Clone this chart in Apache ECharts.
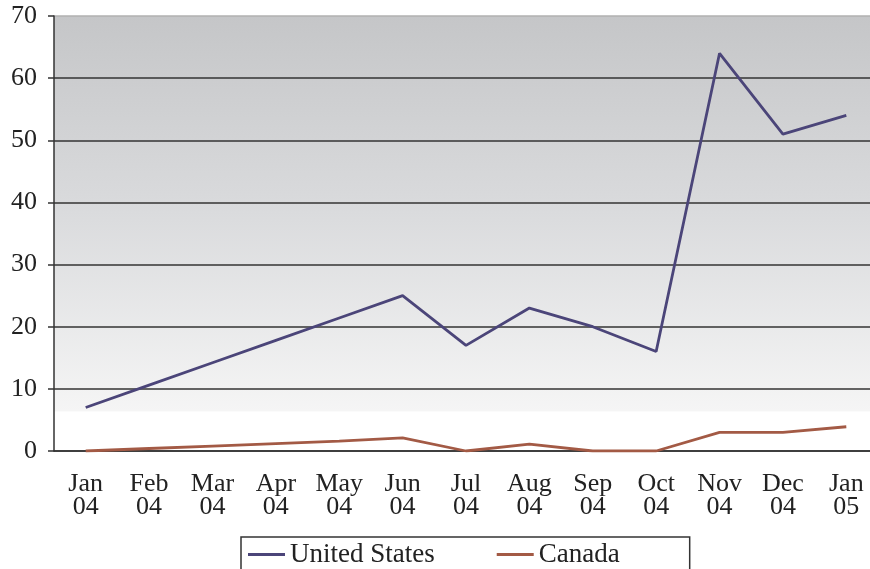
<!DOCTYPE html>
<html>
<head>
<meta charset="utf-8">
<script src="https://cdn.jsdelivr.net/npm/echarts@6/dist/echarts.min.js"></script>
<style>
  html, body { margin: 0; padding: 0; background: #fff; }
  #chart { width: 870px; height: 569px; }
</style>
</head>
<body>
<div id="chart"></div>
<script>
const months = ['Jan\n04', 'Feb\n04', 'Mar\n04', 'Apr\n04', 'May\n04', 'Jun\n04', 'Jul\n04',
  'Aug\n04', 'Sep\n04', 'Oct\n04', 'Nov\n04', 'Dec\n04', 'Jan\n05']
const unitedStates = [7, 10.6, 14.2, 17.8, 21.4, 25, 17, 23, 20, 16, 64, 51, 54]
const canada = [0, 0.4, 0.8, 1.2, 1.6, 2.1, 0, 1.1, 0, 0, 3, 3, 3.9]

const serif = '"Liberation Serif", "DejaVu Serif", serif'
const chart = echarts.init(document.getElementById('chart'))

chart.setOption({
  animation: false,
  textStyle: { fontFamily: serif },
  grid: {
    left: 54, top: 16, width: 824, height: 435,
    outerBoundsMode: 'none',
    containLabel: false,
    show: true,
    borderWidth: 0,
    backgroundColor: new echarts.graphic.LinearGradient(0, 0, 0, 1, [
      { offset: 0, color: '#c5c6c8' },
      { offset: 0.45, color: '#dadbdd' },
      { offset: 0.908, color: '#f5f5f5' },
      { offset: 0.91, color: '#ffffff' },
      { offset: 1, color: '#ffffff' }
    ])
  },
  legend: {
    left: 241, top: 537,
    padding: [4, 70, 10, 7],
    borderColor: '#333', borderWidth: 1.5,
    icon: 'rect', itemWidth: 37, itemHeight: 3, itemGap: 62,
    textStyle: { fontFamily: serif, fontSize: 27, color: '#222' },
    data: ['United States', 'Canada']
  },
  xAxis: {
    type: 'category',
    data: months,
    boundaryGap: true,
    axisLine: { lineStyle: { color: '#333', width: 1.5 } },
    axisTick: { length: 7, lineStyle: { color: '#333', width: 1.5 } },
    axisLabel: {
      margin: 22, fontSize: 26, lineHeight: 23, color: '#222',
      fontFamily: serif, interval: 0
    }
  },
  yAxis: {
    type: 'value',
    min: 0, max: 70, interval: 10,
    axisLine: { show: true, lineStyle: { color: '#333', width: 1.5 } },
    axisTick: { show: true, length: 6, lineStyle: { color: '#333', width: 1.5 } },
    axisLabel: { margin: 17, fontSize: 26, color: '#222', fontFamily: serif, padding: [6, 0, 0, 0] },
    splitLine: {
      lineStyle: {
        color: ['#333', '#333', '#333', '#333', '#333', '#333', '#333', '#b0b0b0'],
        width: 1.5
      }
    }
  },
  series: [
    {
      name: 'United States', type: 'line', data: unitedStates,
      showSymbol: false, color: '#4b4579',
      lineStyle: { width: 2.8, color: '#4b4579' }
    },
    {
      name: 'Canada', type: 'line', data: canada,
      showSymbol: false, color: '#a35a45',
      lineStyle: { width: 2.8, color: '#a35a45' }
    }
  ]
})
</script>
</body>
</html>
